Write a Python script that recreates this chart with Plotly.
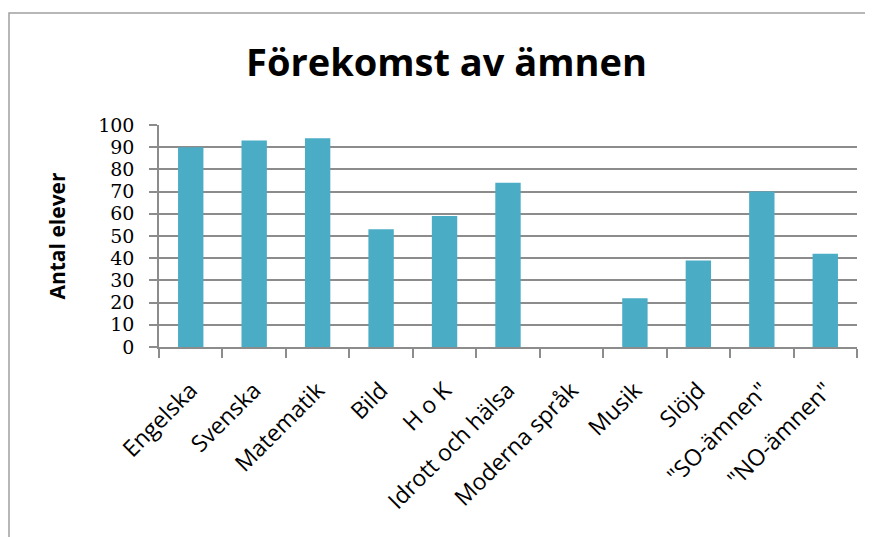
import plotly.graph_objects as go

categories = ["Engelska", "Svenska", "Matematik", "Bild", "H o K", "Idrott och hälsa",
              "Moderna språk", "Musik", "Slöjd", "\"SO-ämnen\"", "\"NO-ämnen\""]
values = [90, 93, 94, 53, 59, 74, 0, 22, 39, 70, 42]
y_ticks = [0, 10, 20, 30, 40, 50, 60, 70, 80, 90, 100]

fig = go.Figure()
fig.add_trace(go.Bar(
    x=categories, y=values,
    marker=dict(color="#4BACC6", line=dict(width=0)),
    width=0.4,
))

fig.update_layout(
    width=873, height=537,
    margin=dict(l=151, r=24, t=117, b=198, autoexpand=False),
    paper_bgcolor="white", plot_bgcolor="white",
    showlegend=False,
    title=dict(text="<b>Förekomst av ämnen</b>", x=0.5023, xanchor="center",
               y=0.899, yanchor="middle",
               font=dict(family="Open Sans", size=38, color="black")),
    xaxis=dict(
        type="category", tickangle=-45, tickson="boundaries",
        ticks="outside", ticklen=9, tickcolor="#8C8C8C", tickwidth=1.5,
        showline=True, linecolor="#8C8C8C", linewidth=1.5,
        showgrid=False, ticklabelstandoff=19,
        tickfont=dict(family="Open Sans", size=23, color="black"),
    ),
    yaxis=dict(
        range=[0, 100], tickvals=y_ticks,
        ticks="outside", ticklen=8, tickcolor="#8C8C8C", tickwidth=1.5,
        showline=True, linecolor="#8C8C8C", linewidth=1.5,
        showgrid=True, gridcolor="#8C8C8C", gridwidth=1.5,
        zeroline=False, ticklabelstandoff=11,
        tickfont=dict(family="DejaVu Serif", size=19, color="black"),
        title=dict(text="<b>Antal elever</b>", standoff=27,
                   font=dict(family="Open Sans", size=21, color="black")),
    ),
)

fig.add_shape(type="rect", xref="paper", yref="paper",
              x0=-0.2149, x1=1.1, y0=-1.0, y1=1.5045,
              line=dict(color="#A0A0A0", width=1.5))

fig.write_html("out.html")
